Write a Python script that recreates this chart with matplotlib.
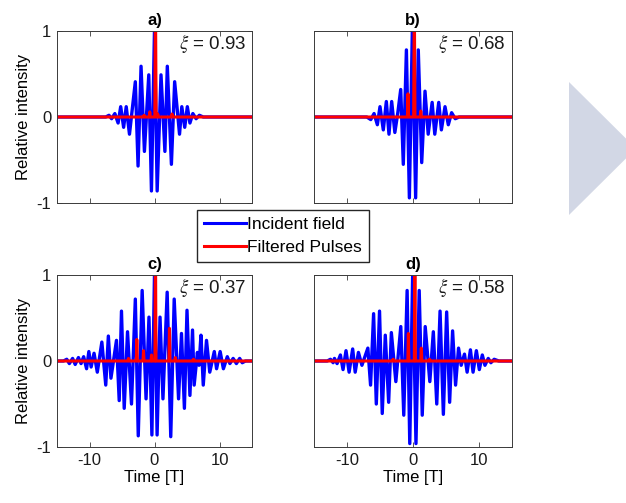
import matplotlib
matplotlib.use("Agg")
import matplotlib.pyplot as plt
from matplotlib.patches import Polygon
from matplotlib.lines import Line2D

plt.rcParams["font.family"] = ["Liberation Sans", "DejaVu Sans"]
plt.rcParams["mathtext.fontset"] = "stix"

BLUE = "#0000ff"
RED = "#ff0000"
AXIS = "#3a3a3a"

# ─────────────────────────────────────────────
# 데이터 (그림에서 읽은 극값: 시간 [T], 상대 세기)
# ─────────────────────────────────────────────

titles = ["a)", "b)", "c)", "d)"]
xi_values = ["0.93", "0.68", "0.37", "0.58"]

blue_a_t = [-15, -7.5, -7.0, -6.6, -6.1, -5.6, -5.2, -4.75, -4.35, -3.85, -2.95, -2.53, -2.07, -1.55,
            -0.88, -0.47, 0.0, 0.41, 1.0, 1.6, 1.97, 2.6, 3.1, 3.85, 4.2, 4.65, 5.05, 5.45, 5.9, 6.4,
            6.9, 7.5, 15]
blue_a_v = [0, 0, 0.02, -0.02, 0.04, -0.07, 0.12, -0.12, 0.12, -0.20, 0.41, -0.57, 0.59, -0.40,
            0.49, -0.86, 1.02, -0.86, 0.49, -0.40, 0.59, -0.55, 0.41, -0.20, 0.12, -0.12, 0.12, -0.07,
            0.04, -0.02, 0.02, 0, 0]

blue_b_t = [-15, -7.0, -6.4, -5.9, -5.4, -5.0, -4.5, -4.04, -3.64, -3.23, -2.75, -2.3, -1.86, -1.47,
            -1.0, -0.55, -0.1, 0.4, 0.8, 1.32, 1.82, 2.3, 2.9, 3.3, 3.9, 4.3, 4.85, 5.35, 5.85, 6.4,
            7.0, 15]
blue_b_v = [0, 0, -0.03, 0.04, -0.09, 0.12, -0.15, 0.18, -0.20, 0.18, -0.18, 0.05, 0.32, -0.55,
            0.78, -0.94, 1.02, -0.94, 0.78, -0.53, 0.30, -0.20, 0.17, -0.20, 0.17, -0.15, 0.12, -0.09,
            0.05, -0.02, 0, 0]

blue_c_t = [-15, -14.0, -13.5, -13.1, -12.6, -12.2, -11.7, -11.3, -10.9, -10.45, -10.1, -9.75, -9.3,
            -8.8, -8.1, -7.5, -7.1, -6.7, -5.85, -5.43, -5.08, -4.66, -4.15, -3.54, -2.95, -2.5, -1.9,
            -1.3, -0.85, -0.4, 0.0, 0.4, 0.85, 1.3, 1.95, 2.5, 3.03, 3.7, 4.15, 4.6, 5.0, 5.45, 5.85,
            6.1, 6.6, 6.85, 7.15, 7.5, 8.0, 8.5, 9.2, 9.55, 10.1, 10.6, 11.2, 11.6, 12.1, 12.6, 13.1,
            13.5, 14.0, 15]
blue_c_v = [0, 0, 0.02, -0.03, 0.03, -0.04, 0.04, -0.03, 0.05, -0.09, 0.11, -0.07, 0.09,
            -0.13, 0.22, -0.28, 0.29, -0.20, 0.24, -0.46, 0.58, -0.55, 0.34, -0.50, 0.72, -0.87, 0.82,
            -0.44, 0.51, -0.86, 1.02, -0.86, 0.51, -0.44, 0.80, -0.88, 0.72, -0.44, 0.32, -0.55, 0.59,
            -0.40, 0.36, -0.28, 0.10, -0.05, 0.30, -0.28, 0.24, -0.13, 0.11, -0.09, 0.11, -0.09, 0.05,
            -0.03, 0.03, -0.03, 0.03, -0.02, 0, 0]

blue_d_t = [-15, -13.0, -12.5, -12.1, -11.9, -11.5, -11.0, -10.6, -10.15, -9.68, -9.14, -8.76, -8.27,
            -7.74, -6.84, -6.43, -5.97, -5.56, -5.07, -4.66, -4.2, -3.69, -3.28, -2.6, -1.85, -1.4,
            -0.89, -0.49, -0.05, 0.45, 0.94, 1.4, 1.85, 2.55, 3.08, 3.6, 4.1, 4.6, 5.1, 5.55, 6.0,
            6.45, 6.9, 7.3, 7.8, 8.2, 8.7, 9.1, 9.6, 10.05, 10.5, 10.9, 11.4, 11.8, 12.3, 13.0, 15]
blue_d_v = [0, 0, 0.02, -0.02, 0.03, -0.03, 0.07, -0.10, 0.12, -0.13, 0.14, -0.13, 0.10,
            -0.05, 0.15, -0.28, 0.55, -0.50, 0.58, -0.61, 0.30, -0.48, 0.33, -0.24, 0.40, -0.63,
            0.82, -0.96, 1.02, -0.96, 0.82, -0.63, 0.40, -0.24, 0.34, -0.50, 0.58, -0.62, 0.57, -0.48,
            0.35, -0.28, 0.15, -0.05, 0.08, -0.13, 0.13, -0.13, 0.12, -0.10, 0.07, -0.05, 0.03, -0.02,
            0.02, 0, 0]

red_a_t = [-15, -1.7, -1.6, -1.5, -0.8, -0.73, -0.66, 0.05, 0.15, 0.25, 0.4, 0.5, 0.6, 2.6, 2.7, 2.8, 15]
red_a_v = [0, 0, 0.02, 0, 0, 0.06, 0, 0, 1.4, 0, 0, 0.035, 0, 0, 0.035, 0, 0]

red_b_t = [-15, -0.85, -0.76, -0.67, 0.1, 0.2, 0.3, 1.1, 1.17, 1.25, 15]
red_b_v = [0, 0, 0.27, 0, 0, 1.4, 0, 0, 0.07, 0, 0]

red_c_t = [-15, -4.1, -4.0, -3.9, -2.8, -2.72, -2.64, -1.77, -1.69, -1.61, -0.54, -0.46, -0.38,
           0.07, 0.15, 0.23, 2.22, 2.3, 2.38, 3.12, 3.2, 3.28, 5.9, 6.0, 6.1, 15]
red_c_v = [0, 0, 0.03, 0, 0, 0.25, 0, 0, 0.12, 0, 0, 0.07, 0,
           0, 1.4, 0, 0, 0.38, 0, 0, 0.04, 0, 0, 0.02, 0, 0]

red_d_t = [-15, -3.1, -3.0, -2.9, -0.78, -0.7, -0.62, 0.2, 0.28, 0.36, 1.18, 1.26, 1.34, 2.4, 2.5,
           2.6, 15]
red_d_v = [0, 0, 0.02, 0, 0, 0.32, 0, 0, 1.4, 0, 0, 0.15, 0, 0, 0.02, 0, 0]

blue_t = [blue_a_t, blue_b_t, blue_c_t, blue_d_t]
blue_v = [blue_a_v, blue_b_v, blue_c_v, blue_d_v]
red_t = [red_a_t, red_b_t, red_c_t, red_d_t]
red_v = [red_a_v, red_b_v, red_c_v, red_d_v]

# ─────────────────────────────────────────────
# 그림
# ─────────────────────────────────────────────

fig = plt.figure(figsize=(6.26, 5.03), dpi=100, facecolor="white")

W, H = 626, 503
boxes = [(57, 31, 252, 203), (314, 31, 512, 203), (57, 275, 252, 447), (314, 275, 512, 447)]

for i, (x0, y0, x1, y1) in enumerate(boxes):
    ax = fig.add_axes([x0 / W, 1 - y1 / H, (x1 - x0) / W, (y1 - y0) / H])
    ax.plot(blue_t[i], blue_v[i], color=BLUE, lw=2.4)
    ax.plot(red_t[i], red_v[i], color=RED, lw=2.2)
    ax.set_xlim(-15, 15)
    ax.set_ylim(-1, 1)
    ax.set_xticks([-10, 0, 10])
    ax.set_yticks([-1, 0, 1])
    ax.tick_params(direction="in", top=True, right=True, length=3.5, width=0.6,
                   colors=AXIS, labelcolor="#1a1a1a", labelsize=12, pad=4)
    for s in ax.spines.values():
        s.set_color(AXIS)
        s.set_linewidth(0.7)
    ax.set_title(titles[i], fontsize=12, fontweight="bold", pad=4)
    ax.text(0.97, 0.925, r"$\xi$ = " + xi_values[i], transform=ax.transAxes,
            ha="right", va="center", fontsize=13.5, color="#1a1a1a")
    if i % 2 == 0:
        ax.set_yticklabels(["-1", "0", "1"])
        ax.set_ylabel("Relative intensity", fontsize=12, labelpad=4)
    else:
        ax.set_yticklabels([])
    if i >= 2:
        ax.set_xticklabels(["-10", "0", "10"])
        ax.set_xlabel("Time [T]", fontsize=12, labelpad=2)
    else:
        ax.set_xticklabels([])

handles = [Line2D([], [], color=BLUE, lw=2.2), Line2D([], [], color=RED, lw=2.2)]
fig.legend(handles, ["Incident field", "Filtered Pulses"], loc="upper left",
           bbox_to_anchor=(197 / W, 1 - 210 / H), fontsize=12.5, frameon=True, fancybox=False,
           edgecolor="#262626", framealpha=1, borderaxespad=0, handlelength=2.4,
           handletextpad=0.1, borderpad=0.4, labelspacing=0.45)

# 오른쪽 회색 화살표
tri = Polygon([(569 / W, 1 - 82 / H), (569 / W, 1 - 215 / H), (636 / W, 1 - 148.5 / H)],
              closed=True, transform=fig.transFigure, facecolor="#d2d7e5", edgecolor="none",
              clip_on=False)
fig.patches.append(tri)

fig.savefig("out.png", dpi=100, facecolor="white")
